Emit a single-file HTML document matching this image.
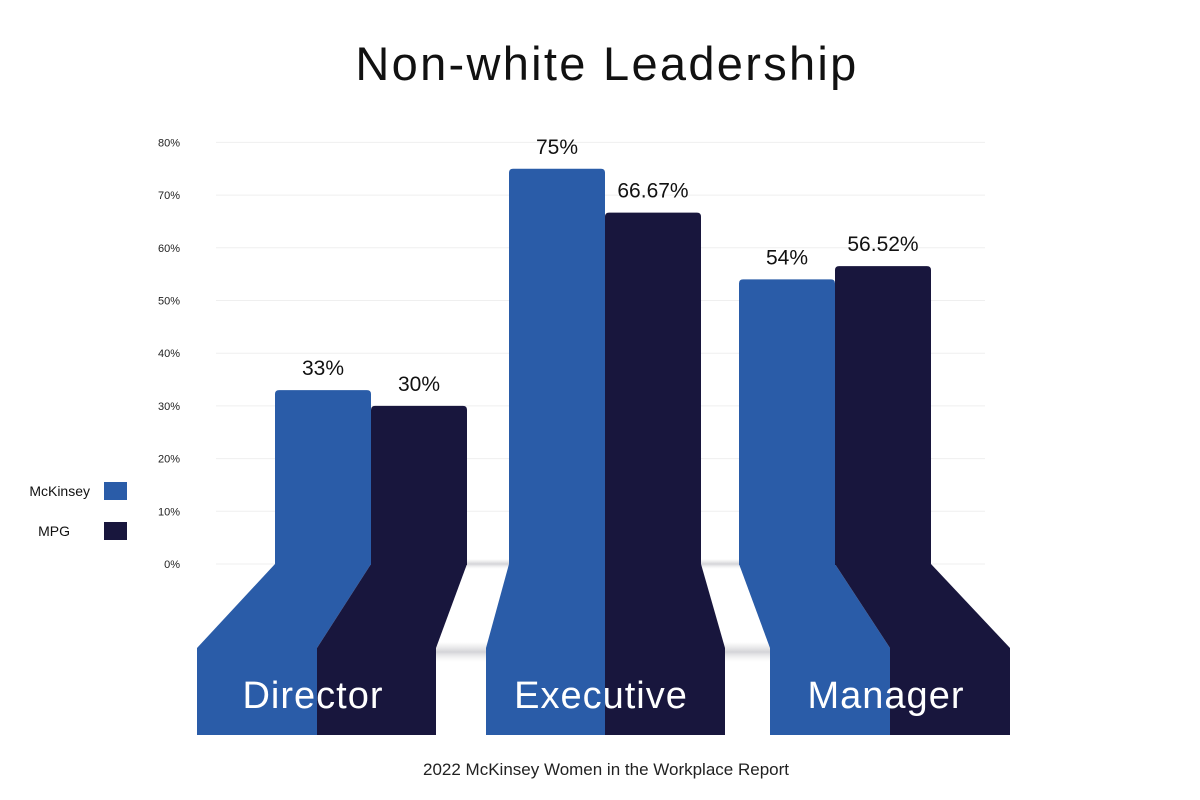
<!DOCTYPE html>
<html><head><meta charset="utf-8"><style>
body{margin:0;background:#fff;}
svg{display:block;font-family:"Liberation Sans",sans-serif;}
</style></head><body>
<svg id="chart" width="1200" height="800">
<defs>
<linearGradient id="sh" x1="0" y1="0" x2="0" y2="1">
<stop offset="0" stop-color="#ddd" stop-opacity="0"/><stop offset="0.5" stop-color="#d4d4d8"/><stop offset="1" stop-color="#eee" stop-opacity="0"/>
</linearGradient>
</defs>
<text x="607" y="80" font-size="47" letter-spacing="2.3" text-anchor="middle" fill="#111">Non-white Leadership</text>
<g id="grid"></g><g id="shadows"></g><g id="bars"></g>
<text x="606" y="775" font-size="17" text-anchor="middle" fill="#222">2022 McKinsey Women in the Workplace Report</text>
<g>
<text x="90" y="496" font-size="14" text-anchor="end" fill="#111">McKinsey</text>
<rect x="104" y="482" width="23" height="18" fill="#2a5ca8"/>
<text x="70" y="536" font-size="14" text-anchor="end" fill="#111">MPG</text>
<rect x="104" y="522" width="23" height="18" fill="#18163d"/>
</g>
</svg>
<script>
const categories=["Director","Executive","Manager"];
const mckinsey=[33,75,54];
const mpg=[30,66.67,56.52];
const mckLabels=["33%","75%","54%"];
const mpgLabels=["30%","66.67%","56.52%"];
const ticks=[0,10,20,30,40,50,60,70,80];
const NS="http://www.w3.org/2000/svg";
const y0=564, ppu=5.27;
function y(v){return y0-v*ppu;}
function mk(tag,attrs,parent){const e=document.createElementNS(NS,tag);for(const k in attrs)e.setAttribute(k,attrs[k]);parent.appendChild(e);return e;}
const grid=document.getElementById('grid'),bars=document.getElementById('bars'),sh=document.getElementById('shadows');
ticks.forEach(t=>{
 const l=mk('line',{x1:216,x2:985,y1:y(t),y2:y(t),stroke:'#efefef','stroke-width':1},grid);
 
 
 const tx=mk('text',{x:180,y:y(t)+4,'font-size':11,'text-anchor':'end',fill:'#222'},grid);
 tx.textContent=t+'%';
 
 
});
const r1=mk('rect',{x:371,y:y0-5,width:500,height:10,fill:'url(#sh)'},sh);


const r2=mk('rect',{x:420,y:642,width:360,height:20,fill:'url(#sh)'},sh);


const barX=[275,509,739], bw=96;
const baseX=[197,486,770], baseW=[120,119,120], baseW2=[119,120,120];
const blue='#2a5ca8', dark='#18163d';
categories.forEach((c,i)=>{
 const bx=barX[i], b0=baseX[i], bm=b0+baseW[i], b1=bm+baseW2[i];
 const p1=mk('polygon',{points:`${bx},${y0} ${bx+bw},${y0} ${bm},648 ${b0},648`,fill:blue},bars);
 
 
 const p2=mk('polygon',{points:`${bx+bw},${y0} ${bx+2*bw},${y0} ${b1},648 ${bm},648`,fill:dark},bars);
 
 
 const s1=mk('rect',{x:b0,y:648,width:baseW[i],height:87,fill:blue},bars);
 
 
 const s2=mk('rect',{x:bm,y:648,width:baseW2[i],height:87,fill:dark},bars);
 
 
 const a=mk('path',{d:`M${bx},${y0+1} V${y(mckinsey[i])+4} Q${bx},${y(mckinsey[i])} ${bx+4},${y(mckinsey[i])} H${bx+bw-4} Q${bx+bw},${y(mckinsey[i])} ${bx+bw},${y(mckinsey[i])+4} V${y0+1} Z`,fill:blue},bars);
 
 
 const b=mk('path',{d:`M${bx+bw},${y0+1} V${y(mpg[i])+4} Q${bx+bw},${y(mpg[i])} ${bx+bw+4},${y(mpg[i])} H${bx+2*bw-4} Q${bx+2*bw},${y(mpg[i])} ${bx+2*bw},${y(mpg[i])+4} V${y0+1} Z`,fill:dark},bars);
 
 
 const t1=mk('text',{x:bx+bw/2,y:y(mckinsey[i])-15,'font-size':21,'text-anchor':'middle',fill:'#111'},bars);
 t1.textContent=mckLabels[i];
 
 
 const t2=mk('text',{x:bx+bw*1.5,y:y(mpg[i])-15,'font-size':21,'text-anchor':'middle',fill:'#111'},bars);
 t2.textContent=mpgLabels[i];
 
 
 const ct=mk('text',{x:bm-4,y:708,'font-size':38,'letter-spacing':1,'text-anchor':'middle',fill:'#fff'},bars);
 ct.textContent=c;
 
 
});
</script>
</body></html>
